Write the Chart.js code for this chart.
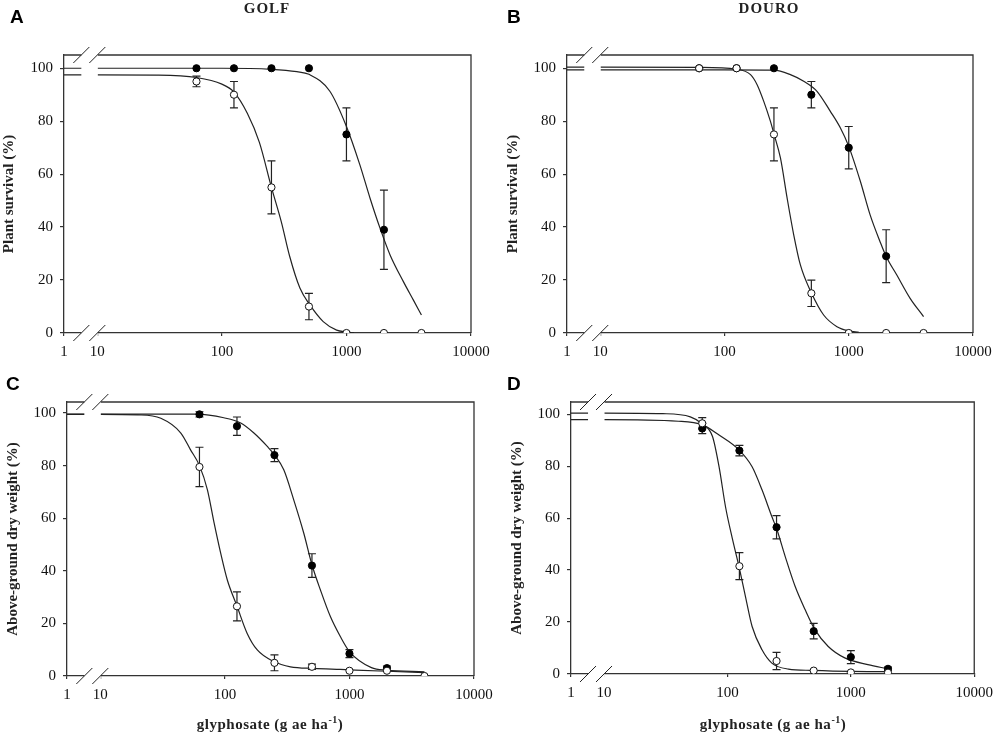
<!DOCTYPE html>
<html><head><meta charset="utf-8">
<script src="https://cdn.jsdelivr.net/npm/chart.js@4.4.1/dist/chart.umd.min.js"></script>
<style>
html,body{margin:0;padding:0;background:#fff;}
#wrap{position:relative;width:1000px;height:739px;overflow:hidden;background:#fff;}
canvas{position:absolute;}
.lbl{position:absolute;font-family:"Liberation Sans",Arial,sans-serif;font-weight:bold;font-size:19px;line-height:19px;color:#000;}
.ttl{position:absolute;font-family:"Liberation Serif","Times New Roman",serif;font-weight:bold;font-size:15px;line-height:15px;color:#222;white-space:nowrap;transform:translateX(-50%);}
.ttl sup{font-size:10px;line-height:0;vertical-align:6px;}
</style></head><body>
<div id="wrap">
<canvas id="cA" width="500" height="370" style="left:0;top:0;width:500px;height:370px"></canvas>
<canvas id="cB" width="500" height="370" style="left:500px;top:0;width:500px;height:370px"></canvas>
<canvas id="cC" width="500" height="369" style="left:0;top:370px;width:500px;height:369px"></canvas>
<canvas id="cD" width="500" height="369" style="left:500px;top:370px;width:500px;height:369px"></canvas>
<div class="lbl" style="left:10px;top:7px">A</div>
<div class="lbl" style="left:507px;top:7px">B</div>
<div class="lbl" style="left:6px;top:374px">C</div>
<div class="lbl" style="left:507px;top:374px">D</div>
<div class="ttl" style="left:267px;top:1px;letter-spacing:1px">GOLF</div>
<div class="ttl" style="left:769px;top:1px;letter-spacing:1px">DOURO</div>
<div class="ttl" style="left:270px;top:717px;letter-spacing:0.5px">glyphosate (g ae ha<sup>-1</sup>)</div>
<div class="ttl" style="left:773px;top:717px;letter-spacing:0.5px">glyphosate (g ae ha<sup>-1</sup>)</div>
</div>
<script>
// ---------- data ----------
const doses = [62.5, 125, 250, 500, 1000, 2000, 4000];
const xTickValues = [5.4, 10, 100, 1000, 10000]; // first value = broken-axis position labelled "1"
const xTickLabels = ['1', '10', '100', '1000', '10000'];
const yTickValues = [0, 20, 40, 60, 80, 100];
const yTickLabels = ['0', '20', '40', '60', '80', '100'];

// A: GOLF plant survival
const golfSurvFilled    = [100, 100, 100, 100, 75, 39, null];
const golfSurvFilledErr = [0, 0, 0, 0, 10, 15, null];
const golfSurvOpen      = [95, 90, 55, 10, 0, 0, 0];
const golfSurvOpenErr   = [2, 5, 10, 5, 0, 0, 0];
const golfSurvFilledCurveX = [1, 10, 100, 250, 400, 500, 736, 1000, 1280, 1545, 1860, 2240, 2865, 3440, 4000];
const golfSurvFilledCurveY = [100, 100, 100, 99.6, 98.7, 97.7, 91.3, 78, 63.6, 51, 39.6, 29.5, 19.4, 12.5, 6.8];
const golfSurvOpenCurveX = [1, 10, 30, 62.5, 100, 125, 160, 200, 250, 300, 350, 423, 509, 651, 834, 1000, 1150];
const golfSurvOpenCurveY = [97.5, 97.5, 97.4, 96.5, 94, 91, 83, 72, 55, 42, 29, 17, 10.6, 4.3, 1.1, 0.4, 0.1];

// B: DOURO plant survival
const douroSurvFilled    = [100, 100, 100, 90, 70, 29, null];
const douroSurvFilledErr = [0, 0, 0, 5, 8, 10, null];
const douroSurvOpen      = [100, 100, 75, 15, 0, 0, 0];
const douroSurvOpenErr   = [0, 0, 10, 5, 0, 0, 0];
const douroSurvFilledCurveX = [1, 10, 100, 250, 339, 434, 555, 711, 855, 1000, 1236, 1486, 1786, 2000, 2437, 3119, 4000];
const douroSurvFilledCurveY = [99.4, 99.4, 99.4, 99.3, 97.6, 95.1, 91.3, 83.7, 77.5, 70.5, 57.5, 44.6, 34.5, 28.9, 21.9, 13.1, 6.2];
const douroSurvOpenCurveX = [1, 10, 62.5, 125, 162, 183, 207, 234, 250, 282, 319, 361, 408, 500, 628, 804, 1000, 1200];
const douroSurvOpenCurveY = [100.4, 100.4, 100.3, 99.6, 97.6, 93.8, 87.5, 80, 75.2, 66.1, 51, 37, 25.7, 15.2, 6.8, 2.4, 0.8, 0.3];

// C: GOLF above-ground dry weight
const golfDwFilled    = [99.5, 95, 84, 42, 8.5, 3, null];
const golfDwFilledErr = [1, 3.5, 2.5, 4.5, 1.5, 0.8, null];
const golfDwOpen      = [79.5, 26.5, 5, 3.5, 2, 2, 0];
const golfDwOpenErr   = [7.5, 5.5, 3, 1, 0, 0, 0];
const golfDwFilledCurveX = [1, 10, 60, 98, 134, 171, 219, 250, 297, 357, 430, 500, 585, 703, 845, 1000, 1500, 2000, 4000];
const golfDwFilledCurveY = [99.6, 99.6, 99.6, 98.2, 96.2, 92.4, 87.3, 84.1, 78.4, 67, 54.3, 42.3, 32.7, 22.6, 15, 9.3, 3.2, 2.2, 1.6];
const golfDwOpenCurveX = [1, 10, 20, 30.6, 44.3, 53, 62.5, 72.4, 82, 92.5, 104.6, 125, 151, 182, 247, 336, 517, 845, 2000, 4000];
const golfDwOpenCurveY = [99.5, 99.5, 99.3, 98, 92.4, 86, 80, 70.8, 58.1, 46.7, 36.5, 26.6, 16.2, 9.9, 5.5, 3.5, 2.9, 2.5, 1.8, 1.3];

// D: DOURO above-ground dry weight
const douroDwFilled    = [94.5, 86, 56.5, 16.5, 6.5, 2, null];
const douroDwFilledErr = [2, 2, 4.5, 3, 2.5, 0.7, null];
const douroDwOpen      = [96.5, 41.5, 5, 1.3, 0.6, 0.5, null];
const douroDwOpenErr   = [2.2, 5.2, 3.3, 0, 0, 0, null];
const douroDwFilledCurveX = [1, 10, 40, 62.8, 85.5, 124, 158.5, 190.6, 229, 252, 294, 354, 427, 513, 656, 893, 1374, 2000];
const douroDwFilledCurveY = [97.9, 97.9, 97.3, 95.9, 92, 86.3, 79.8, 70.9, 60.6, 55.5, 45.2, 33.7, 24.7, 17, 10.6, 6.2, 3.6, 2];
const douroDwOpenCurveX = [1, 10, 30, 50, 62.5, 75.7, 85.5, 96.8, 109.4, 124, 140, 158.5, 190.6, 229, 312, 479, 1000, 2000];
const douroDwOpenCurveY = [100.4, 100.4, 100.2, 99, 96.3, 91.4, 79.8, 64, 52.3, 41.4, 29.8, 18.3, 9.3, 4.2, 1.9, 1.4, 1.0, 0.9];

// ---------- plugins ----------
const errorBarPlugin = {
  id: 'errorBars',
  beforeDatasetsDraw(chart) {
    const {ctx, scales: {x, y}} = chart;
    ctx.save();
    ctx.strokeStyle = '#222';
    ctx.lineWidth = 1.2;
    chart.data.datasets.forEach(ds => {
      if (!ds.isMarkers) return;
      ds.data.forEach(p => {
        if (!p.e) return;
        const px = x.getPixelForValue(p.x);
        const y1 = y.getPixelForValue(p.y + p.e);
        const y2 = y.getPixelForValue(p.y - p.e);
        ctx.beginPath();
        ctx.moveTo(px, y1); ctx.lineTo(px, y2);
        ctx.moveTo(px - 4, y1); ctx.lineTo(px + 4, y1);
        ctx.moveTo(px - 4, y2); ctx.lineTo(px + 4, y2);
        ctx.stroke();
      });
    });
    ctx.restore();
  }
};

const frameBreakPlugin = {
  id: 'frameBreak',
  afterDatasetsDraw(chart) {
    const {ctx, chartArea: {left, right, top, bottom}, scales: {x}} = chart;
    const p10 = x.getPixelForValue(10);
    ctx.save();
    ctx.strokeStyle = '#333';
    ctx.lineWidth = 1.3;
    ctx.beginPath();
    ctx.moveTo(left, top); ctx.lineTo(right, top); ctx.lineTo(right, bottom);
    ctx.stroke();
    ctx.fillStyle = '#fff';
    ctx.fillRect(p10 - 16, top - 3, 16.5, bottom - top + 7);
    ctx.strokeStyle = '#222';
    ctx.lineWidth = 1;
    [top, bottom].forEach(yy => {
      ctx.beginPath();
      ctx.moveTo(p10 - 24, yy + 8); ctx.lineTo(p10 - 8, yy - 8);
      ctx.moveTo(p10 - 8, yy + 8); ctx.lineTo(p10 + 8, yy - 8);
      ctx.stroke();
    });
    ctx.restore();
  }
};

function pts(xs, ys, es) {
  const out = [];
  xs.forEach((xv, i) => {
    if (ys[i] === null || ys[i] === undefined) return;
    out.push(es ? {x: xv, y: ys[i], e: es[i] || 0} : {x: xv, y: ys[i]});
  });
  return out;
}

function makePanel(id, p) {
  const serif = '"Liberation Serif", "Times New Roman", serif';
  new Chart(document.getElementById(id), {
    type: 'scatter',
    data: {
      datasets: [
        {data: pts(doses, p.open, p.openErr), isMarkers: true, showLine: false, pointRadius: 3.6,
         pointBackgroundColor: '#fff', pointBorderColor: '#111', pointBorderWidth: 1, order: 0},
        {data: pts(doses, p.filled, p.filledErr), isMarkers: true, showLine: false, pointRadius: 3.6,
         pointBackgroundColor: '#000', pointBorderColor: '#000', pointBorderWidth: 1, order: 1},
        {data: pts(p.openCurveX, p.openCurveY), showLine: true, pointRadius: 0, borderColor: '#222',
         borderWidth: 1.2, cubicInterpolationMode: 'monotone', order: 2},
        {data: pts(p.filledCurveX, p.filledCurveY), showLine: true, pointRadius: 0, borderColor: '#222',
         borderWidth: 1.2, cubicInterpolationMode: 'monotone', order: 3}
      ]
    },
    options: {
      responsive: false,
      animation: false,
      events: [],
      layout: {padding: {left: 0, top: p.padTop, right: p.padRight, bottom: 0}},
      plugins: {legend: {display: false}, tooltip: {enabled: false}},
      scales: {
        x: {
          type: 'logarithmic', position: 'bottom', bounds: 'data',
          min: xTickValues[0], max: xTickValues[xTickValues.length - 1],
          afterBuildTicks: s => { s.ticks = xTickValues.map(v => ({value: v})); },
          afterFit: s => { s.height = p.axisH; },
          ticks: {callback: (v, i) => xTickLabels[i], autoSkip: false, maxRotation: 0,
                  font: {family: serif, size: 15}, color: '#111', padding: 7},
          grid: {display: true, drawOnChartArea: false, drawTicks: true, tickLength: 3, color: '#333', lineWidth: 1.2},
          border: {display: true, color: '#333', width: 1.3}
        },
        y: {
          type: 'linear', position: 'left', min: 0, max: p.yMax,
          afterBuildTicks: s => { s.ticks = yTickValues.map(v => ({value: v})); },
          afterFit: s => { s.width = p.axisW; },
          ticks: {callback: (v, i) => yTickLabels[i], font: {family: serif, size: 15}, color: '#111', padding: 7},
          grid: {display: true, drawOnChartArea: false, drawTicks: true, tickLength: 4, color: '#333', lineWidth: 1.2},
          border: {display: true, color: '#333', width: 1.3},
          title: {display: true, text: p.yTitle, color: '#222',
                  font: {family: serif, size: 15, weight: 'bold'}, padding: {top: p.titlePad, bottom: 0}}
        }
      }
    },
    plugins: [errorBarPlugin, frameBreakPlugin]
  });
}

makePanel('cA', {
  filled: golfSurvFilled, filledErr: golfSurvFilledErr, open: golfSurvOpen, openErr: golfSurvOpenErr,
  filledCurveX: golfSurvFilledCurveX, filledCurveY: golfSurvFilledCurveY,
  openCurveX: golfSurvOpenCurveX, openCurveY: golfSurvOpenCurveY,
  yTitle: 'Plant survival (%)', yMax: 105, axisW: 64, axisH: 37, padTop: 55, padRight: 29, titlePad: 0.5
});
makePanel('cB', {
  filled: douroSurvFilled, filledErr: douroSurvFilledErr, open: douroSurvOpen, openErr: douroSurvOpenErr,
  filledCurveX: douroSurvFilledCurveX, filledCurveY: douroSurvFilledCurveY,
  openCurveX: douroSurvOpenCurveX, openCurveY: douroSurvOpenCurveY,
  yTitle: 'Plant survival (%)', yMax: 105, axisW: 67, axisH: 37, padTop: 55, padRight: 27, titlePad: 4
});
makePanel('cC', {
  filled: golfDwFilled, filledErr: golfDwFilledErr, open: golfDwOpen, openErr: golfDwOpenErr,
  filledCurveX: golfDwFilledCurveX, filledCurveY: golfDwFilledCurveY,
  openCurveX: golfDwOpenCurveX, openCurveY: golfDwOpenCurveY,
  yTitle: 'Above-ground dry weight (%)', yMax: 104.2, axisW: 67, axisH: 63, padTop: 32, padRight: 26, titlePad: 4
});
makePanel('cD', {
  filled: douroDwFilled, filledErr: douroDwFilledErr, open: douroDwOpen, openErr: douroDwOpenErr,
  filledCurveX: douroDwFilledCurveX, filledCurveY: douroDwFilledCurveY,
  openCurveX: douroDwOpenCurveX, openCurveY: douroDwOpenCurveY,
  yTitle: 'Above-ground dry weight (%)', yMax: 104.7, axisW: 71, axisH: 65, padTop: 32, padRight: 22, titlePad: 8.5
});
</script>
</body></html>
